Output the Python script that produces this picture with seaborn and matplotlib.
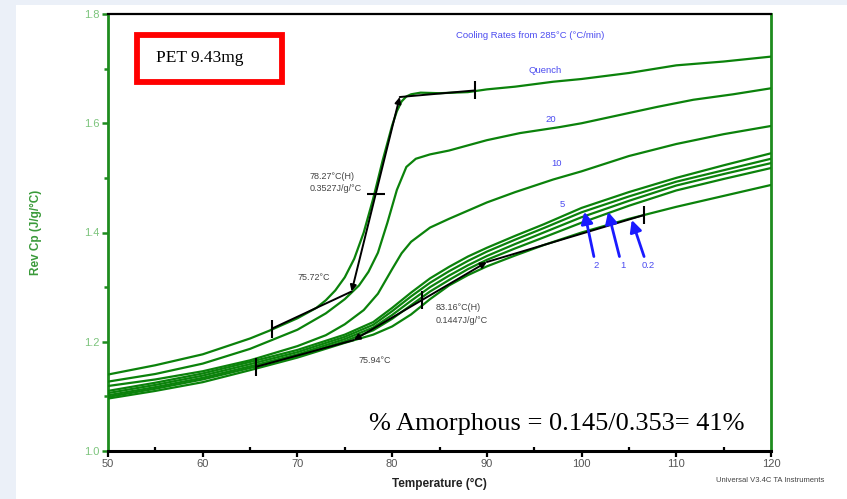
import numpy as np
import pandas as pd
import matplotlib
matplotlib.use("Agg")
import matplotlib.pyplot as plt
import seaborn as sns
from matplotlib.patches import Rectangle

# ---------------- data ----------------
T_quench = [50, 55, 60, 65, 67, 70, 72, 73, 74, 75, 76, 77, 78, 79, 80, 80.5, 81, 81.5,
            82, 83, 85, 88, 90, 93, 97, 100, 105, 110, 115, 120]
cp_quench = [1.140, 1.157, 1.177, 1.206, 1.220, 1.243, 1.262, 1.276, 1.294, 1.318, 1.352,
             1.400, 1.462, 1.532, 1.596, 1.622, 1.640, 1.649, 1.653, 1.656, 1.655, 1.657,
             1.662, 1.667, 1.676, 1.681, 1.692, 1.706, 1.713, 1.722]

T_20 = [50, 55, 60, 65, 70, 73, 75, 76.5, 77.5, 78.5, 79.5, 80.5, 81.5, 82.5, 84, 86, 90,
        93.5, 97.7, 100, 104.8, 108, 111.8, 116, 120]
cp_20 = [1.127, 1.141, 1.160, 1.187, 1.222, 1.252, 1.278, 1.303, 1.328, 1.363, 1.418, 1.478,
         1.520, 1.535, 1.543, 1.550, 1.569, 1.582, 1.593, 1.600, 1.618, 1.630, 1.643, 1.653,
         1.664]

T_10 = [50, 55, 60, 65, 70, 73, 75, 77, 78.5, 80, 81, 82, 84, 86, 90, 93, 97, 100, 105,
        110, 115, 120]
cp_10 = [1.119, 1.131, 1.146, 1.166, 1.192, 1.212, 1.232, 1.258, 1.288, 1.333, 1.362, 1.383,
         1.409, 1.425, 1.455, 1.474, 1.497, 1.512, 1.540, 1.562, 1.580, 1.595]

T_slow = [50, 55, 60, 65, 70, 75, 78, 80, 82, 84, 86, 88, 90, 93, 96, 100, 105, 110, 115, 120]
cp_5 = [1.110, 1.125, 1.142, 1.163, 1.185, 1.213, 1.236, 1.262, 1.290, 1.316, 1.337, 1.356,
        1.372, 1.394, 1.415, 1.445, 1.474, 1.500, 1.523, 1.545]
cp_2 = [1.106, 1.121, 1.138, 1.159, 1.181, 1.209, 1.231, 1.256, 1.283, 1.308, 1.329, 1.348,
        1.365, 1.387, 1.408, 1.437, 1.466, 1.493, 1.514, 1.535]
cp_1 = [1.102, 1.117, 1.134, 1.155, 1.177, 1.205, 1.226, 1.249, 1.275, 1.300, 1.321, 1.340,
        1.357, 1.379, 1.400, 1.428, 1.458, 1.486, 1.507, 1.527]
cp_05 = [1.099, 1.114, 1.131, 1.152, 1.174, 1.201, 1.221, 1.242, 1.267, 1.292, 1.313, 1.333,
         1.350, 1.371, 1.391, 1.418, 1.449, 1.477, 1.498, 1.518]
cp_02 = [1.096, 1.110, 1.126, 1.148, 1.171, 1.198, 1.213, 1.228, 1.250, 1.278, 1.303, 1.322,
         1.338, 1.358, 1.377, 1.400, 1.425, 1.447, 1.467, 1.487]

# tangent constructions (limit, onset, endset, limit) and half-height points
quench_tan_T = [67.3, 75.72, 80.8, 88.7]
quench_tan_cp = [1.224, 1.292, 1.648, 1.660]
quench_mid = (78.27, 1.470)
slow_tan_T = [65.6, 75.94, 90.0, 106.6]
slow_tan_cp = [1.154, 1.203, 1.346, 1.432]
slow_mid = (83.16, 1.276)

# rate labels
rate_labels = ["Quench", "20", "10", "5"]
rate_label_T = [96.2, 96.7, 97.4, 98.0]
rate_label_cp = [1.697, 1.606, 1.527, 1.452]

# blue arrows: label, tail, tip
arrow_labels = ["2", "1", "0.2"]
arrow_tail_T = [101.3, 104.0, 106.6]
arrow_tail_cp = [1.356, 1.356, 1.356]
arrow_tip_T = [100.3, 102.8, 105.3]
arrow_tip_cp = [1.438, 1.438, 1.423]
arrow_label_T = [101.5, 104.4, 107.0]
arrow_label_cp = [1.339, 1.339, 1.339]

# ---------------- figure ----------------
sns.set_theme(style="ticks")
plt.rcParams["font.family"] = ["Liberation Sans", "DejaVu Sans"]

W, H = 847, 499
fig = plt.figure(figsize=(W / 100, H / 100), dpi=100, facecolor="#ebf0f8")
bg = Rectangle((16 / W, 0), 1, 1 - 5 / H, transform=fig.transFigure,
               facecolor="white", edgecolor="none", zorder=-10)
fig.add_artist(bg)
ax = fig.add_axes([108 / W, 48 / H, 663 / W, 437 / H])
ax.set_zorder(5)
ax.set_facecolor("white")

frames = []
for name, T, cp in [("Quench", T_quench, cp_quench), ("20", T_20, cp_20), ("10", T_10, cp_10),
                    ("5", T_slow, cp_5), ("2", T_slow, cp_2), ("1", T_slow, cp_1),
                    ("0.5", T_slow, cp_05), ("0.2", T_slow, cp_02)]:
    frames.append(pd.DataFrame({"T": T, "Cp": cp, "rate": name}))
df = pd.concat(frames, ignore_index=True)

green = "#0b820b"
order = list(df["rate"].unique())
sns.lineplot(data=df, x="T", y="Cp", hue="rate", hue_order=order,
             palette={r: green for r in order}, estimator=None, sort=False,
             linewidth=1.6, legend=False, ax=ax, zorder=3)

ax.set_xlim(50, 120)
ax.set_ylim(1.0, 1.8)
ax.set_xticks(np.arange(50, 121, 10))
ax.set_xticks(np.arange(55, 120, 10), minor=True)
ax.set_yticks([1.0, 1.2, 1.4, 1.6, 1.8])
ax.set_yticks([1.1, 1.3, 1.5, 1.7], minor=True)
ax.set_yticklabels(["1.0", "1.2", "1.4", "1.6", "1.8"])

for s in ["left", "right"]:
    ax.spines[s].set_color("#1e8c1e")
    ax.spines[s].set_linewidth(2)
ax.spines["top"].set_color("black")
ax.spines["top"].set_linewidth(1.6)
ax.spines["bottom"].set_color("black")
ax.spines["bottom"].set_linewidth(2.2)
ax.spines["right"].set_visible(True)
ax.spines["top"].set_visible(True)

ax.tick_params(axis="y", which="major", direction="out", length=4, width=1.8,
               color="#1e8c1e", labelcolor="#7cc47c", labelsize=8, pad=2)
ax.tick_params(axis="y", which="minor", direction="out", length=3, width=1.8,
               color="#1e8c1e", left=True)
ax.tick_params(axis="x", which="major", direction="out", length=4, width=1.6,
               color="black", labelcolor="#555555", labelsize=8, pad=2)
ax.tick_params(axis="x", which="minor", direction="in", length=3, width=1.6,
               color="black", bottom=True)

ax.set_xlabel("Temperature (°C)", fontsize=8.5, fontweight="bold", color="#222222")
ax.xaxis.set_label_coords(0.5, -0.062)
ax.set_ylabel("Rev Cp (J/g/°C)", fontsize=8.5, fontweight="bold", color="#3a9a3a")
ax.yaxis.set_label_coords(-0.1, 0.5)

# ---------------- tangent constructions ----------------
for Ts, cps, mid, mid_marker in [(quench_tan_T, quench_tan_cp, quench_mid, "_"),
                                 (slow_tan_T, slow_tan_cp, slow_mid, "|")]:
    pts = list(zip(Ts, cps))
    ax.plot(Ts[0:2], cps[0:2], color="black", lw=1.4, zorder=5)
    ax.plot(Ts[2:4], cps[2:4], color="black", lw=1.4, zorder=5)
    ax.annotate("", xy=pts[2], xytext=pts[1],
                arrowprops=dict(arrowstyle="<|-|>", color="black", lw=1.4,
                                mutation_scale=9, shrinkA=0, shrinkB=0), zorder=5)
    ax.plot([Ts[0], Ts[3]], [cps[0], cps[3]], ls="none", marker="|", ms=13, mew=1.5,
            color="black", zorder=6)
    ax.plot([mid[0]], [mid[1]], ls="none", marker=mid_marker, ms=13, mew=1.5,
            color="black", zorder=6)

ann_c = "#444444"
ax.text(71.3, 1.503, "78.27°C(H)", fontsize=6.5, color=ann_c, va="center", ha="left")
ax.text(71.3, 1.480, "0.3527J/g/°C", fontsize=6.5, color=ann_c, va="center", ha="left")
ax.text(70.0, 1.317, "75.72°C", fontsize=6.5, color=ann_c, va="center", ha="left")
ax.text(84.6, 1.262, "83.16°C(H)", fontsize=6.5, color=ann_c, va="center", ha="left")
ax.text(84.6, 1.238, "0.1447J/g/°C", fontsize=6.5, color=ann_c, va="center", ha="left")
ax.text(76.5, 1.166, "75.94°C", fontsize=6.5, color=ann_c, va="center", ha="left")

# ---------------- blue labels / arrows ----------------
blue = "#4b4bf0"
ax.text(94.6, 1.760, "Cooling Rates from 285°C (°C/min)", fontsize=6.8, color=blue,
        ha="center", va="center")
for lab, t, c in zip(rate_labels, rate_label_T, rate_label_cp):
    ax.text(t, c, lab, fontsize=6.8, color=blue, ha="center", va="center")
for lab, tt, tc, pt, pc, lt, lc in zip(arrow_labels, arrow_tail_T, arrow_tail_cp,
                                      arrow_tip_T, arrow_tip_cp, arrow_label_T, arrow_label_cp):
    ax.annotate("", xy=(pt, pc), xytext=(tt, tc),
                arrowprops=dict(arrowstyle="-|>,head_length=0.5,head_width=0.25",
                                color="#1a1aff", lw=2.0,
                                mutation_scale=14, shrinkA=0, shrinkB=0), zorder=7)
    ax.text(lt, lc, lab, fontsize=6.8, color=blue, ha="center", va="center")

# ---------------- boxed / large text ----------------
ax.add_patch(Rectangle((0.0437, 0.8444), 0.2187, 0.1076, transform=ax.transAxes,
                       facecolor="white", edgecolor="#ff0000", lw=4.2, zorder=8))
ax.text(0.0724, 0.899, "PET 9.43mg", transform=ax.transAxes, fontsize=12.5,
        family=["Liberation Serif", "DejaVu Serif"], color="black", ha="left", va="center",
        zorder=9)
ax.text(0.677, 0.062, "% Amorphous = 0.145/0.353= 41%", transform=ax.transAxes,
        fontsize=19, family=["Liberation Serif", "DejaVu Serif"], color="black",
        ha="center", va="center", zorder=9)
fig.text(0.909, 0.038, "Universal V3.4C TA Instruments", fontsize=5.5, color="#444444",
         ha="center", va="center")

fig.savefig("out.png", dpi=100, facecolor=fig.get_facecolor())
